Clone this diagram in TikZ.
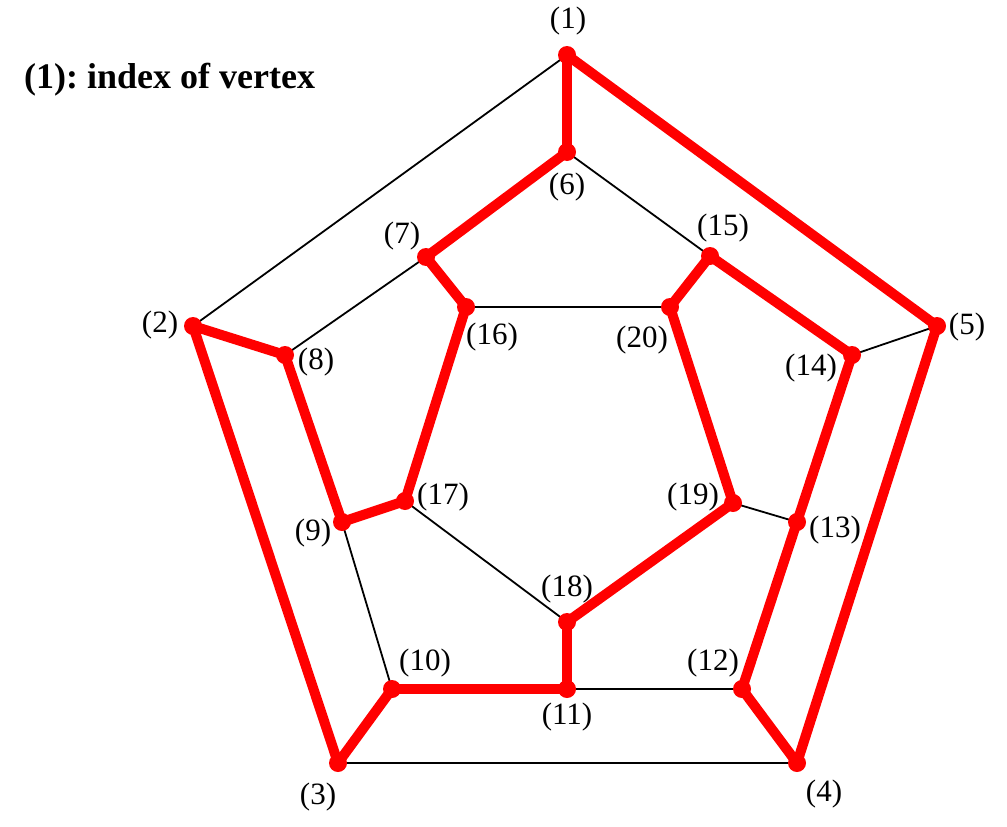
\documentclass[tikz,border=0pt]{standalone}
\usepackage{fontspec}
\setmainfont{Liberation Serif}
\begin{document}
\frenchspacing
\begin{tikzpicture}[x=1pt,y=-1pt,
  thin/.style={black,line width=1.8pt},
  hc/.style={red,line width=10pt},
  vdot/.style={circle,fill=red,inner sep=0pt,minimum size=18pt},
  lab/.style={font=\fontsize{31}{34}\selectfont,inner sep=0pt}]
\useasboundingbox (0,0) rectangle (1007,827);
\coordinate (v1) at (567,55);
\coordinate (v2) at (193,326);
\coordinate (v3) at (338,763);
\coordinate (v4) at (797,763);
\coordinate (v5) at (937,326);
\coordinate (v6) at (567,152);
\coordinate (v7) at (426,257);
\coordinate (v8) at (285,355);
\coordinate (v9) at (342,522);
\coordinate (v10) at (392,689);
\coordinate (v11) at (567,689);
\coordinate (v12) at (742,689);
\coordinate (v13) at (797,522);
\coordinate (v14) at (852,355);
\coordinate (v15) at (710,256);
\coordinate (v16) at (466,307);
\coordinate (v17) at (405,501);
\coordinate (v18) at (567,622);
\coordinate (v19) at (733,503);
\coordinate (v20) at (670,307);
% black edges
\draw[thin] (v1)--(v2) (v6)--(v15) (v7)--(v8) (v16)--(v20) (v14)--(v5)
  (v9)--(v10) (v17)--(v18) (v19)--(v13) (v11)--(v12) (v3)--(v4);
% hamiltonian cycle
\foreach \a/\b in {1/6,6/7,7/16,16/17,17/9,9/8,8/2,2/3,3/10,10/11,11/18,18/19,19/20,20/15,15/14,14/13,13/12,12/4,4/5,5/1}
  \draw[hc] (v\a)--(v\b);
\foreach \i in {1,...,20} \node[vdot] (d\i) at (v\i) {};
% labels
\node[lab] (l1) at (568,21) {(1)};
\node[lab] (l2) at (160,325) {(2)};
\node[lab] (l3) at (318,797) {(3)};
\node[lab] (l4) at (824,794) {(4)};
\node[lab] (l5) at (967,327) {(5)};
\node[lab] (l6) at (567,187) {(6)};
\node[lab] (l7) at (402,236) {(7)};
\node[lab] (l8) at (316,362) {(8)};
\node[lab] (l9) at (313,533) {(9)};
\node[lab] (l10) at (425,663) {(10)};
\node[lab] (l11) at (567,717) {(11)};
\node[lab] (l12) at (713,663) {(12)};
\node[lab] (l13) at (835,530) {(13)};
\node[lab] (l14) at (811,368) {(14)};
\node[lab] (l15) at (723,228) {(15)};
\node[lab] (l16) at (492,337) {(16)};
\node[lab] (l17) at (443,497) {(17)};
\node[lab] (l18) at (567,589) {(18)};
\node[lab] (l19) at (693,497) {(19)};
\node[lab] (l20) at (642,340) {(20)};
\node[font=\fontsize{36}{40}\selectfont\bfseries,anchor=west,inner sep=0pt] (title) at (24,80) {(1): index of vertex};
\end{tikzpicture}
\end{document}
